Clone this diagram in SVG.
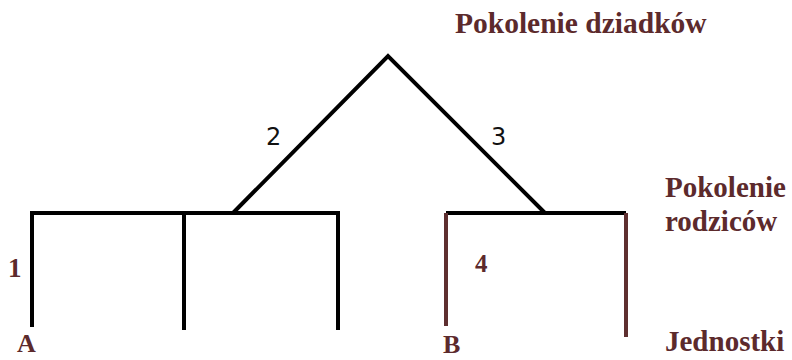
<svg xmlns="http://www.w3.org/2000/svg" width="792" height="360" viewBox="0 0 792 360">
<style>
.lbl{font-family:"Liberation Serif","Times New Roman",serif;font-weight:bold;fill:#5c2a2c}
.num{font-family:"DejaVu Sans","Liberation Sans",sans-serif;fill:#111;font-size:24px}
.blk{stroke:#000;stroke-width:4;fill:none;stroke-linecap:butt;stroke-linejoin:miter}
.brn{stroke:#5e2f30;stroke-width:4;fill:none}
</style>
<rect width="792" height="360" fill="#fff"/>
<g id="connectors">
<path class="blk" d="M233,213 L388,56 L545,213"/>
<path class="blk" d="M32,327 L32,213 L338,213 L338,330"/>
<path class="blk" d="M184,213 L184,330"/>
<path class="blk" d="M446,213 L626,213"/>
<path class="brn" d="M446,213 L446,326"/>
<path class="brn" d="M626,213 L626,337"/>
</g>
<g id="grandparents"><text class="lbl" x="455" y="33" font-size="29.5">Pokolenie dziadków</text></g>
<g id="parents"><text class="lbl" x="665" y="197" font-size="29">Pokolenie</text><text class="lbl" x="665" y="231" font-size="29">rodziców</text></g>
<g id="individuals"><text class="lbl" x="665" y="351" font-size="29">Jednostki</text></g>
<g id="nodeA"><text class="lbl" x="17" y="352" font-size="26">A</text></g>
<g id="nodeB"><text class="lbl" x="443" y="353" font-size="26">B</text></g>
<g id="label1"><text class="lbl" x="8" y="277" font-size="27">1</text></g>
<g id="label4"><text class="lbl" x="475" y="272" font-size="25">4</text></g>
<g id="label2"><text class="num" x="266" y="145">2</text></g>
<g id="label3"><text class="num" x="491" y="145">3</text></g>
</svg>
